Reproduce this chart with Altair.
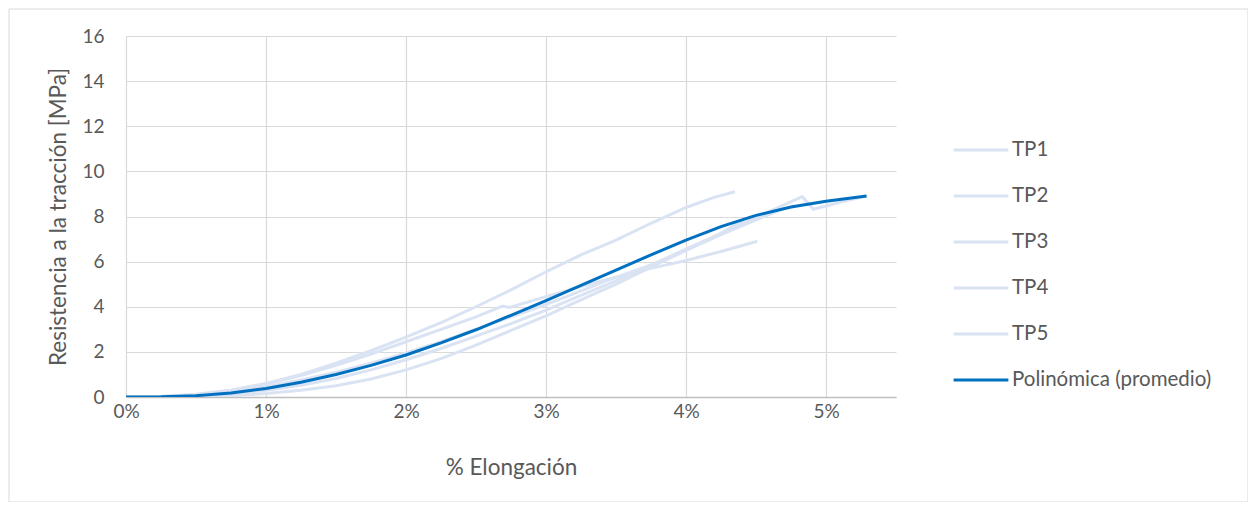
import altair as alt
import pandas as pd

# ---- data (x in % elongation, y in MPa) ----
tp1_x = [0, 0.25, 0.5, 0.75, 1.0, 1.25, 1.5, 1.75, 2.0, 2.25, 2.5, 2.75, 3.0, 3.25, 3.5, 3.75, 4.0, 4.2, 4.35]
tp1_y = [0, 0.02, 0.12, 0.3, 0.6, 1.0, 1.5, 2.05, 2.65, 3.3, 4.0, 4.75, 5.55, 6.3, 6.95, 7.7, 8.4, 8.85, 9.1]

tp2_x = [0, 0.25, 0.5, 0.75, 1.0, 1.25, 1.5, 1.75, 2.0, 2.25, 2.5, 2.69, 2.74, 3.0, 3.25, 3.43, 3.75, 4.0, 4.25, 4.51]
tp2_y = [0, 0.02, 0.1, 0.3, 0.58, 0.95, 1.4, 1.9, 2.45, 3.0, 3.55, 4.03, 3.97, 4.45, 4.9, 5.2, 5.7, 6.05, 6.45, 6.9]

tp3_x = [0, 0.25, 0.5, 0.75, 1.0, 1.25, 1.5, 1.75, 2.0, 2.25, 2.5, 2.75, 3.0, 3.25, 3.5, 3.75, 4.0, 4.25, 4.5, 4.83, 4.91, 5.12, 5.28]
tp3_y = [0, 0.01, 0.05, 0.15, 0.3, 0.52, 0.82, 1.2, 1.65, 2.15, 2.7, 3.25, 3.85, 4.5, 5.15, 5.85, 6.55, 7.25, 7.95, 8.88, 8.32, 8.66, 8.9]

tp4_x = [0, 0.25, 0.5, 0.75, 1.0, 1.25, 1.5, 1.75, 2.0, 2.25, 2.5, 2.75, 3.0, 3.25, 3.5, 3.75, 4.0, 4.25, 4.41]
tp4_y = [0, 0.005, 0.02, 0.07, 0.15, 0.3, 0.5, 0.8, 1.2, 1.7, 2.3, 2.95, 3.6, 4.3, 5.0, 5.75, 6.5, 7.25, 7.85]

tp5_x = [0, 0.25, 0.5, 0.75, 1.0, 1.25, 1.5, 1.75, 2.0, 2.25, 2.5, 2.75, 3.0, 3.25, 3.43, 3.75, 4.0, 4.25, 4.5, 4.7]
tp5_y = [0, 0.02, 0.08, 0.22, 0.45, 0.75, 1.1, 1.5, 1.95, 2.45, 3.0, 3.55, 4.1, 4.7, 5.15, 5.85, 6.5, 7.2, 7.85, 8.35]

poly_x = [0, 0.25, 0.5, 0.75, 1.0, 1.25, 1.5, 1.75, 2.0, 2.25, 2.5, 2.75, 3.0, 3.25, 3.5, 3.75, 4.0, 4.25, 4.5, 4.75, 5.0, 5.29]
poly_y = [0, 0.01, 0.06, 0.18, 0.38, 0.65, 1.0, 1.4, 1.86, 2.4, 2.98, 3.62, 4.27, 4.95, 5.62, 6.3, 6.95, 7.55, 8.05, 8.42, 8.68, 8.91]

series_names = ["TP1", "TP2", "TP3", "TP4", "TP5", "Polinómica (promedio)"]
series_x = [tp1_x, tp2_x, tp3_x, tp4_x, tp5_x, poly_x]
series_y = [tp1_y, tp2_y, tp3_y, tp4_y, tp5_y, poly_y]
series_colors = ["#dae3f3", "#dae3f3", "#dae3f3", "#dae3f3", "#dae3f3", "#0070c0"]

y_ticks = [0, 2, 4, 6, 8, 10, 12, 14, 16]
x_ticks = [0, 1, 2, 3, 4, 5]

rows = []
for k, (name, xs, ys) in enumerate(zip(series_names, series_x, series_y)):
    for i, (xv, yv) in enumerate(zip(xs, ys)):
        rows.append({"serie": name, "x": xv, "y": yv, "i": i, "k": k})
df = pd.DataFrame(rows)

FONT = "Lato"
GREY = "#595959"

frame = alt.Chart(pd.DataFrame({"a": [0]})).mark_rect(
    fill="white", fillOpacity=0, stroke="#d9d9d9", strokeWidth=1
).encode(
    x=alt.value(-117), x2=alt.value(1122),
    y=alt.value(-27), y2=alt.value(466),
)

lines = alt.Chart(df).mark_line(strokeWidth=3, clip=True).encode(
    x=alt.X("x:Q", scale=alt.Scale(domain=[0, 5.5], nice=False),
            axis=alt.Axis(values=x_ticks, labelExpr="datum.value + '%'",
                          title="% Elongación", grid=True, gridColor="#d9d9d9",
                          domainColor="#bfbfbf", domainWidth=1.5, ticks=False,
                          labelFlush=False, labelPadding=5, titlePadding=35)),
    y=alt.Y("y:Q", scale=alt.Scale(domain=[0, 16], nice=False),
            axis=alt.Axis(values=y_ticks, title="Resistencia a la tracción [MPa]",
                          grid=True, gridColor="#d9d9d9", domain=False, ticks=False,
                          labelFlush=False, labelPadding=22, titlePadding=11)),
    color=alt.Color("serie:N", scale=alt.Scale(domain=series_names, range=series_colors),
                    sort=series_names,
                    legend=alt.Legend(title=None, orient="none", legendX=826, legendY=85,
                                      symbolType="stroke", symbolStrokeWidth=3,
                                      symbolSize=3000, labelFontSize=20.5, labelColor=GREY,
                                      labelFont=FONT, rowPadding=6, labelOffset=2,
                                      labelLimit=0)),
    order=alt.Order("i:Q"),
)

chart = alt.layer(frame, lines).properties(
    width=770, height=361,
    autosize=alt.AutoSizeParams(type="none"),
    padding={"left": 118, "top": 28, "right": 352, "bottom": 105},
    background="white",
).configure_view(stroke=None).configure_axis(
    labelFont=FONT, titleFont=FONT, labelFontSize=19, titleFontSize=22.5,
    labelColor=GREY, titleColor=GREY, titleFontWeight="normal", gridWidth=1.2,
)

chart.save("out.html", embed_options={"renderer": "svg", "actions": False})
